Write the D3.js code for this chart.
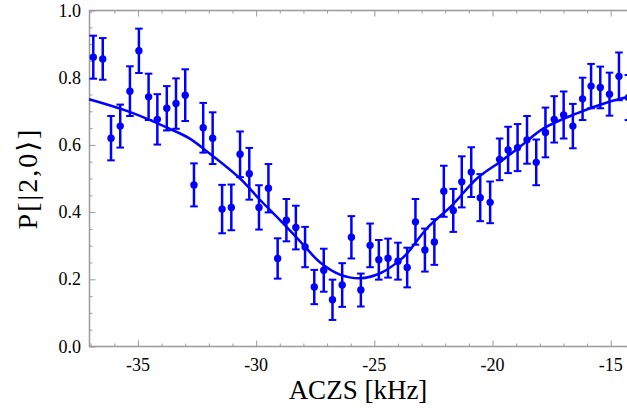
<!DOCTYPE html>
<html>
<head>
<meta charset="utf-8">
<script src="https://cdn.jsdelivr.net/npm/d3@7"></script>
<style>
  html, body { margin: 0; padding: 0; background: #fff; }
  svg { display: block; }
  .tick-label { font-family: "Liberation Serif", "DejaVu Serif", serif; font-size: 18px; fill: #000; }
  .axis-title { font-family: "Liberation Serif", "DejaVu Serif", serif; font-size: 27px; fill: #000; }
</style>
</head>
<body>
<svg id="chart" width="627" height="408"></svg>
<script>
// Measured detuning (kHz) of each shot
const detuning = [
  -36.89, -36.49, -36.14, -35.75, -35.34, -34.96, -34.55, -34.18, -33.78, -33.39,
  -33.00, -32.63, -32.24, -31.84, -31.44, -31.05, -30.68, -30.29, -29.88, -29.48,
  -29.09, -28.72, -28.32, -27.93, -27.54, -27.14, -26.77, -26.36, -25.97, -25.57,
  -25.18, -24.81, -24.42, -24.00, -23.61, -23.26, -22.86, -22.46, -22.06, -21.66,
  -21.30, -20.90, -20.52, -20.10, -19.70, -19.34, -18.94, -18.54, -18.15, -17.76,
  -17.39, -16.99, -16.60, -16.19, -15.83, -15.44, -15.05, -14.65, -14.25
];
// Population of |2,0> at each detuning
const population = [
  0.861, 0.856, 0.620, 0.656, 0.760, 0.880, 0.743, 0.676, 0.709, 0.723,
  0.748, 0.481, 0.651, 0.620, 0.409, 0.414, 0.572, 0.514, 0.414, 0.471,
  0.262, 0.376, 0.354, 0.296, 0.177, 0.227, 0.139, 0.183, 0.325, 0.168,
  0.301, 0.258, 0.263, 0.254, 0.235, 0.371, 0.287, 0.311, 0.462, 0.405,
  0.490, 0.519, 0.443, 0.429, 0.557, 0.585, 0.592, 0.615, 0.548, 0.637,
  0.676, 0.689, 0.656, 0.737, 0.775, 0.771, 0.751, 0.804, 0.741
];
// One-sigma uncertainty of each population value
const uncertainty = [
  0.064, 0.062, 0.066, 0.064, 0.074, 0.066, 0.069, 0.075, 0.066, 0.075,
  0.077, 0.064, 0.074, 0.077, 0.072, 0.068, 0.068, 0.077, 0.066, 0.072,
  0.060, 0.063, 0.065, 0.060, 0.051, 0.064, 0.060, 0.065, 0.063, 0.049,
  0.065, 0.059, 0.058, 0.055, 0.059, 0.068, 0.064, 0.068, 0.076, 0.064,
  0.076, 0.074, 0.070, 0.062, 0.062, 0.069, 0.070, 0.071, 0.068, 0.074,
  0.069, 0.070, 0.066, 0.063, 0.066, 0.062, 0.064, 0.071, 0.067
];
// Fitted line shape, sampled across the scan
const fitDetuning = [
  -37.07, -35.38, -33.69, -32.84, -32.07, -30.68, -29.83, -28.99, -28.14, -27.29,
  -26.45, -25.60, -24.75, -23.91, -23.55, -22.77, -21.70, -20.66, -19.67, -18.83,
  -17.84, -16.43, -15.02, -14.20
];
const fitPopulation = [
  0.736, 0.699, 0.649, 0.620, 0.580, 0.500, 0.436, 0.376, 0.313, 0.250,
  0.214, 0.203, 0.218, 0.257, 0.282, 0.352, 0.421, 0.500, 0.550, 0.595,
  0.649, 0.694, 0.729, 0.744
];
const xTickValues = [-35, -30, -25, -20, -15];
const yTickValues = [0.0, 0.2, 0.4, 0.6, 0.8, 1.0];

const svg = d3.select("#chart");
const plot = { left: 89.5, right: 629.6, top: 10.5, bottom: 346.5 };
const blue = "#0000ff";
const frameColor = "#9a9a9a";

const x = d3.scaleLinear().domain([-37.05, -14.2]).range([plot.left, plot.right]);
const y = d3.scaleLinear().domain([0, 1]).range([plot.bottom, plot.top]);

// Frame with inward ticks on all four sides
const xMinor = d3.range(-37, -14, 1).filter(v => !xTickValues.includes(v));
const yMinor = d3.range(0, 1.0001, 0.05).filter(v => !yTickValues.some(t => Math.abs(t - v) < 1e-6));

function tickAxis(axisGen, transform) {
  return svg.append("g").attr("transform", transform).call(axisGen)
    .call(g => g.select(".domain").remove())
    .call(g => g.selectAll("line").attr("stroke", frameColor).attr("stroke-width", 1));
}

tickAxis(d3.axisBottom(x).tickValues(xTickValues).tickSize(-6).tickFormat(""), `translate(0,${plot.bottom})`);
tickAxis(d3.axisBottom(x).tickValues(xMinor).tickSize(-3).tickFormat(""), `translate(0,${plot.bottom})`);
tickAxis(d3.axisTop(x).tickValues(xTickValues).tickSize(-6).tickFormat(""), `translate(0,${plot.top})`);
tickAxis(d3.axisTop(x).tickValues(xMinor).tickSize(-3).tickFormat(""), `translate(0,${plot.top})`);
tickAxis(d3.axisLeft(y).tickValues(yTickValues).tickSize(-6).tickFormat(""), `translate(${plot.left},0)`);
tickAxis(d3.axisLeft(y).tickValues(yMinor).tickSize(-3).tickFormat(""), `translate(${plot.left},0)`);

svg.append("rect")
  .attr("x", plot.left).attr("y", plot.top)
  .attr("width", plot.right - plot.left).attr("height", plot.bottom - plot.top)
  .attr("fill", "none").attr("stroke", frameColor).attr("stroke-width", 1.5);

// Tick labels
svg.append("g").selectAll("text").data(xTickValues).join("text")
  .attr("class", "tick-label")
  .attr("x", d => x(d)).attr("y", 371)
  .attr("text-anchor", "middle")
  .text(d => "-" + Math.abs(d));

svg.append("g").selectAll("text").data(yTickValues).join("text")
  .attr("class", "tick-label")
  .attr("x", 81).attr("y", d => y(d) + 6)
  .attr("text-anchor", "end")
  .text(d => d.toFixed(1));

// Axis titles
svg.append("text").attr("class", "axis-title")
  .attr("x", 358).attr("y", 399).attr("text-anchor", "middle")
  .text("ACZS [kHz]");

svg.append("text").attr("class", "axis-title")
  .attr("transform", `translate(37,${(plot.top + plot.bottom) / 2}) rotate(-90)`)
  .attr("text-anchor", "middle")
  .style("font-size", "28px")
  .style("letter-spacing", "2px")
  .text("P[|2,0⟩]");

// Fit curve
const fit = fitDetuning.map((d, i) => [d, fitPopulation[i]]);
svg.append("path")
  .datum(fit)
  .attr("fill", "none").attr("stroke", blue).attr("stroke-width", 2.5)
  .attr("d", d3.line().x(d => x(d[0])).y(d => y(d[1])).curve(d3.curveCatmullRom.alpha(0.5)));

// Data points with error bars
const points = detuning.map((d, i) => ({ x: d, y: population[i], e: uncertainty[i] }));
const g = svg.append("g");
const capHalf = 3.8;
const bars = g.selectAll("g.pt").data(points).join("g").attr("class", "pt");
bars.append("line")
  .attr("x1", d => x(d.x)).attr("x2", d => x(d.x))
  .attr("y1", d => y(d.y - d.e)).attr("y2", d => y(d.y + d.e))
  .attr("stroke", blue).attr("stroke-width", 2.5);
bars.append("line")
  .attr("x1", d => x(d.x) - capHalf).attr("x2", d => x(d.x) + capHalf)
  .attr("y1", d => y(d.y + d.e)).attr("y2", d => y(d.y + d.e))
  .attr("stroke", blue).attr("stroke-width", 2);
bars.append("line")
  .attr("x1", d => x(d.x) - capHalf).attr("x2", d => x(d.x) + capHalf)
  .attr("y1", d => y(d.y - d.e)).attr("y2", d => y(d.y - d.e))
  .attr("stroke", blue).attr("stroke-width", 2);
bars.append("circle")
  .attr("cx", d => x(d.x)).attr("cy", d => y(d.y)).attr("r", 3.7)
  .attr("fill", blue);
</script>
</body>
</html>
